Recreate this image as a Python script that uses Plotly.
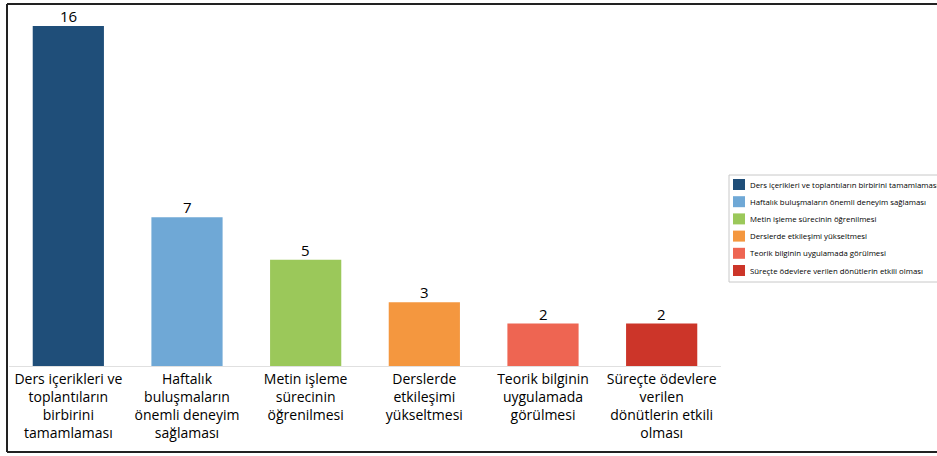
import plotly.graph_objects as go

# Kategori etiketleri (eksende satırlara bölünmüş hali) ve lejant adları
categories = [
    "Ders içerikleri ve<br>toplantıların<br>birbirini<br>tamamlaması",
    "Haftalık<br>buluşmaların<br>önemli deneyim<br>sağlaması",
    "Metin işleme<br>sürecinin<br>öğrenilmesi",
    "Derslerde<br>etkileşimi<br>yükseltmesi",
    "Teorik bilginin<br>uygulamada<br>görülmesi",
    "Süreçte ödevlere<br>verilen<br>dönütlerin etkili<br>olması",
]
legend_names = [
    "Ders içerikleri ve toplantıların birbirini tamamlaması",
    "Haftalık buluşmaların önemli deneyim sağlaması",
    "Metin işleme sürecinin öğrenilmesi",
    "Derslerde etkileşimi yükseltmesi",
    "Teorik bilginin uygulamada görülmesi",
    "Süreçte ödevlere verilen dönütlerin etkili olması",
]
counts = [16, 7, 5, 3, 2, 2]
colors = ["#1F4E79", "#6FA8D6", "#9BC85A", "#F4973F", "#EE6552", "#CC3529"]

fig = go.Figure()
for cat, name, val, col in zip(categories, legend_names, counts, colors):
    fig.add_trace(go.Bar(
        x=[cat], y=[val], name=name,
        marker=dict(color=col, line=dict(width=0)),
    ))
    # Çubuğun üstündeki değer etiketi
    fig.add_annotation(x=cat, y=val, xref="x", yref="y", text=str(val),
                       showarrow=False, yanchor="bottom", yshift=-2,
                       font=dict(size=15, color="#000000", family="Open Sans"))

W, H = 937, 456
ml, mr, mt, mb = 9, 216, 26, 90
pw, ph = W - ml - mr, H - mt - mb


def px_x(p):
    return (p - ml) / pw


def px_y(p):
    return (H - mb - p) / ph


# Çerçeve çizgileri (sol, üst, alt)
frame = dict(type="line", xref="paper", yref="paper",
             line=dict(color="#222222", width=2))
fig.add_shape(**frame, x0=px_x(7), x1=px_x(7), y0=px_y(4), y1=px_y(452))
fig.add_shape(**frame, x0=px_x(7), x1=px_x(945), y0=px_y(4), y1=px_y(4))
fig.add_shape(**frame, x0=px_x(7), x1=px_x(945), y0=px_y(452), y1=px_y(452))

# Sağ taraftaki lejant kutusu: renk kareleri ve açıklamalar
box_left, box_top, box_bottom = 729, 175, 282
row_first, row_step = 184.5, 17.2
fig.add_shape(type="rect", xref="paper", yref="paper",
              x0=px_x(box_left), x1=px_x(950),
              y0=px_y(box_bottom), y1=px_y(box_top),
              line=dict(color="#C8C8C8", width=1), fillcolor="white",
              layer="below")
for i, (name, col) in enumerate(zip(legend_names, colors)):
    cy = row_first + i * row_step
    fig.add_shape(type="rect", xref="paper", yref="paper",
                  x0=px_x(733), x1=px_x(745),
                  y0=px_y(cy + 5.5), y1=px_y(cy - 5.5),
                  line=dict(width=0), fillcolor=col)
    fig.add_annotation(x=px_x(748), y=px_y(cy), xref="paper", yref="paper",
                       text=name, showarrow=False,
                       xanchor="left", yanchor="middle",
                       font=dict(size=7.8, color="#000000", family="Open Sans"))

fig.update_layout(
    width=W, height=H,
    margin=dict(l=ml, r=mr, t=mt, b=mb, pad=0, autoexpand=False),
    paper_bgcolor="white", plot_bgcolor="white",
    barmode="overlay", bargap=0.40,
    font=dict(family="Open Sans", color="#000000"),
    showlegend=False,
    xaxis=dict(
        tickfont=dict(size=14, color="#000000"),
        showline=True, linecolor="#E0E0E0", linewidth=1,
        ticks="", showgrid=False, tickangle=0,
    ),
    yaxis=dict(range=[0, 16], visible=False, showgrid=False, zeroline=False),
)

fig.write_html("out.html")
